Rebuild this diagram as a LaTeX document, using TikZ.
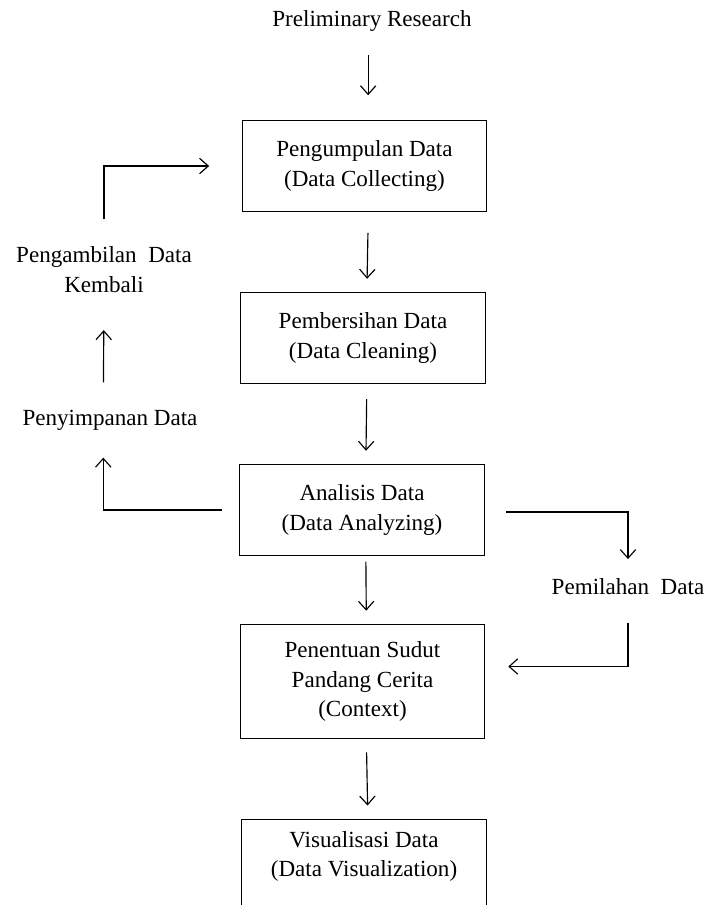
\documentclass[tikz,border=0pt]{standalone}
\usepackage{fontspec}
\setmainfont{Liberation Serif}
\usetikzlibrary{arrows.meta}

\begin{document}
\begin{tikzpicture}[
        x=0.52pt, y=-0.52pt,
        ->, >={Straight Barb[length=4.5pt, width=8pt]}, line width=0.6pt,
        every node/.style={font=\fontsize{12}{15.5}\selectfont, align=center},
        stage/.style={draw, minimum width=127pt, minimum height=47pt},
        note/.style={inner sep=2pt},
        down/.style={xshift=2pt}
    ]
    \useasboundingbox (0,0) rectangle (707,905);

    \node[note] (prelim) at (372,21) {Preliminary Research};
    \node[stage] (collect) at (364.5,166) {Pengumpulan Data\\(Data Collecting)};
    \node[stage] (clean) at (363,338) {Pembersihan Data\\(Data Cleaning)};
    \node[stage] (analyze) at (362,510) {Analisis Data\\(Data Analyzing)};
    \node[stage, minimum height=59pt] (context) at (362.5,681.5) {Penentuan Sudut\\Pandang Cerita\\(Context)};
    \node[stage, anchor=north, minimum height=0pt, inner ysep=6pt, text depth=30pt] (visual) at (364,819) {Visualisasi Data\\(Data Visualization)};

    \node[note] (store) at (110,420) {Penyimpanan Data};
    \node[note] (retake) at (104,270) {Pengambilan~ Data\\Kembali};
    \node[note] (sort) at (628,587) {Pemilahan~ Data};

    \draw[shorten <=10pt, shorten >=13pt] ([xshift=-2pt]prelim.south) -- ([xshift=-2pt]prelim.south |- collect.north);
    \draw[shorten <=11pt, shorten >=7pt] ([down]collect.south) -- ([down]clean.north);
    \draw[shorten <=8pt, shorten >=7pt] ([down]clean.south) -- ([down]analyze.north);
    \draw[shorten <=3pt, shorten >=7pt] ([down]analyze.south) -- ([down]context.north);
    \draw[shorten <=7pt, shorten >=7pt] ([down]context.south) -- ([down]visual.north);

    \draw[shorten <=9pt, shorten >=12pt] (analyze.west) -| ([xshift=-3.5pt]store.south);
    \draw[shorten <=12pt, shorten >=17pt] ([xshift=-3.5pt]store.north) -- (retake.south);
    \draw[shorten <=12pt, shorten >=17pt] (retake.north) |- (collect.west);
    \draw[shorten <=11pt, shorten >=8pt] ([yshift=-1pt]analyze.east) -| (sort.north);
    \draw[shorten <=12pt, shorten >=12pt] (sort.south) |- ([yshift=7.8pt]context.east);
\end{tikzpicture}
\end{document}
